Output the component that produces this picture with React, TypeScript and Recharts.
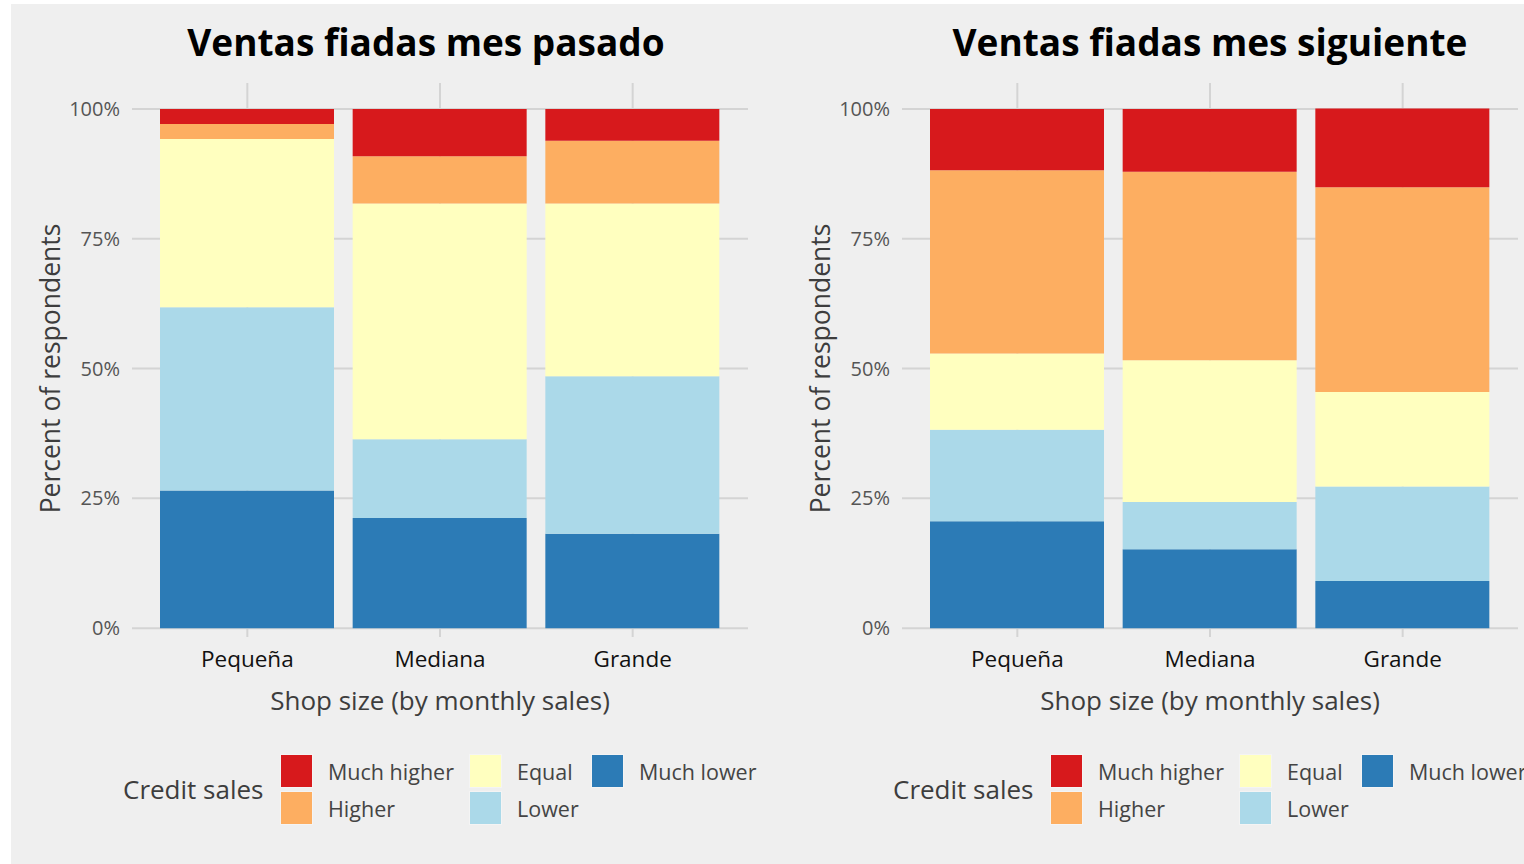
import { BarChart, Bar, XAxis, YAxis, CartesianGrid, Label } from 'recharts';

// Shop sizes (x categories)
const SIZES = ['Pequeña', 'Mediana', 'Grande'];

// Percent of respondents, last month
const PASADO_MUCH_LOWER = [26.5, 21.2, 18.2];
const PASADO_LOWER = [35.3, 15.2, 30.3];
const PASADO_EQUAL = [32.4, 45.4, 33.3];
const PASADO_HIGHER = [2.9, 9.1, 12.1];
const PASADO_MUCH_HIGHER = [2.9, 9.1, 6.1];

// Percent of respondents, next month
const SIGUIENTE_MUCH_LOWER = [20.6, 15.2, 9.1];
const SIGUIENTE_LOWER = [17.6, 9.1, 18.2];
const SIGUIENTE_EQUAL = [14.7, 27.3, 18.2];
const SIGUIENTE_HIGHER = [35.3, 36.3, 39.4];
const SIGUIENTE_MUCH_HIGHER = [11.8, 12.1, 15.2];

const Y_TICKS = [0, 25, 50, 75, 100];
const Y_DOMAIN: [number, number] = [-1.7, 105];
const X_PAD = 19;

// stack order bottom -> top
const LEVELS = [
  { key: 'muchLower', name: 'Much lower', color: '#2c7bb6' },
  { key: 'lower', name: 'Lower', color: '#abd9e9' },
  { key: 'equal', name: 'Equal', color: '#ffffbf' },
  { key: 'higher', name: 'Higher', color: '#fdae61' },
  { key: 'muchHigher', name: 'Much higher', color: '#d7191c' },
];

// legend is read column-wise like ggplot
const LEGEND_ORDER = ['muchHigher', 'higher', 'equal', 'lower', 'muchLower'];

const FONT = '"Open Sans", sans-serif';

const buildRows = (ml: number[], l: number[], e: number[], h: number[], mh: number[]) =>
  SIZES.map((size, i) => ({
    size,
    muchLower: ml[i],
    lower: l[i],
    equal: e[i],
    higher: h[i],
    muchHigher: mh[i],
  }));

const pasadoData = buildRows(PASADO_MUCH_LOWER, PASADO_LOWER, PASADO_EQUAL, PASADO_HIGHER, PASADO_MUCH_HIGHER);
const siguienteData = buildRows(
  SIGUIENTE_MUCH_LOWER,
  SIGUIENTE_LOWER,
  SIGUIENTE_EQUAL,
  SIGUIENTE_HIGHER,
  SIGUIENTE_MUCH_HIGHER
);

const LEGEND_COLS = [269, 458, 580];

// grid lines only at the tick positions (no box around the panel)
const hLines = ({ offset }: any) => {
  const top = offset?.top ?? 79;
  const h = offset?.height ?? 554;
  const [lo, hi] = Y_DOMAIN;
  return Y_TICKS.map((t) => top + (h * (hi - t)) / (hi - lo));
};
const vLines = ({ offset }: any) => {
  const left = offset?.left ?? 121;
  const w = offset?.width ?? 616;
  const band = (w - 2 * X_PAD) / SIZES.length;
  return SIZES.map((_, i) => left + X_PAD + band * (i + 0.5));
};

function CreditLegend() {
  return (
    <>
      <div
        style={{
          position: 'absolute',
          left: 112,
          top: 767,
          fontSize: 26,
          color: '#3d3d3d',
          fontFamily: FONT,
          whiteSpace: 'nowrap',
        }}
      >
        Credit sales
      </div>
      {LEGEND_ORDER.map((key, i) => {
        const lv = LEVELS.find((l) => l.key === key)!;
        const col = Math.floor(i / 2);
        const row = i % 2;
        return (
          <div key={key} style={{ position: 'absolute', left: LEGEND_COLS[col], top: 750 + row * 37 }}>
            <div
              style={{
                position: 'absolute',
                left: 0,
                top: 0,
                width: 33,
                height: 34,
                background: lv.color,
                border: '1px solid #f4f4f4',
                boxSizing: 'border-box',
              }}
            />
            <div
              style={{
                position: 'absolute',
                left: 48,
                top: 3,
                fontSize: 21.5,
                color: '#444',
                fontFamily: FONT,
                whiteSpace: 'nowrap',
              }}
            >
              {lv.name}
            </div>
          </div>
        );
      })}
    </>
  );
}

function Panel({ title, data, left, titleX }: { title: string; data: any[]; left: number; titleX: number }) {
  return (
    <div style={{ position: 'absolute', left, top: 0, width: 770, height: 860 }}>
      <div
        style={{
          position: 'absolute',
          left: titleX - 300,
          width: 600,
          top: 12,
          textAlign: 'center',
          fontSize: 37,
          fontWeight: 700,
          color: '#000',
          fontFamily: FONT,
        }}
      >
        {title}
      </div>
      <BarChart
        width={770}
        height={860}
        data={data}
        margin={{ top: 79, right: 33, left: 0, bottom: 167 }}
        style={{ fontFamily: FONT }}
      >
        <CartesianGrid
          stroke="#d4d4d4"
          strokeWidth={2}
          horizontalCoordinatesGenerator={hLines}
          verticalCoordinatesGenerator={vLines}
        />
        <XAxis
          dataKey="size"
          axisLine={false}
          tickLine={false}
          tickMargin={8}
          height={60}
          padding={{ left: X_PAD, right: X_PAD }}
          tick={{ fontSize: 22.5, fill: '#111', fontFamily: FONT }}
        >
          <Label
            value="Shop size (by monthly sales)"
            position="bottom"
            offset={-5}
            style={{ fontSize: 26, fill: '#3d3d3d', fontFamily: FONT }}
          />
        </XAxis>
        <YAxis
          width={121}
          domain={Y_DOMAIN}
          ticks={Y_TICKS}
          tickFormatter={(v: number) => `${v}%`}
          axisLine={false}
          tickLine={false}
          tickMargin={6}
          allowDataOverflow
          tick={{ fontSize: 20, fill: '#555', fontFamily: FONT }}
        >
          <Label
            content={() => (
              <text
                transform="translate(39, 364.5) rotate(-90)"
                textAnchor="middle"
                dominantBaseline="central"
                style={{ fontSize: 26.5, fill: '#3d3d3d', fontFamily: FONT }}
              >
                Percent of respondents
              </text>
            )}
          />
        </YAxis>
        {LEVELS.map((lv) => (
          <Bar
            key={lv.key}
            dataKey={lv.key}
            name={lv.name}
            stackId="a"
            fill={lv.color}
            barSize={174}
            isAnimationActive={false}
          />
        ))}
      </BarChart>
      <CreditLegend />
    </div>
  );
}

export default function App() {
  return (
    <div
      style={{
        position: 'absolute',
        left: 11,
        top: 4,
        width: 1513,
        height: 860,
        background: '#efefef',
        overflow: 'hidden',
      }}
    >
      <Panel title="Ventas fiadas mes pasado" data={pasadoData} left={0} titleX={415} />
      <Panel title="Ventas fiadas mes siguiente" data={siguienteData} left={770} titleX={429} />
    </div>
  );
}
